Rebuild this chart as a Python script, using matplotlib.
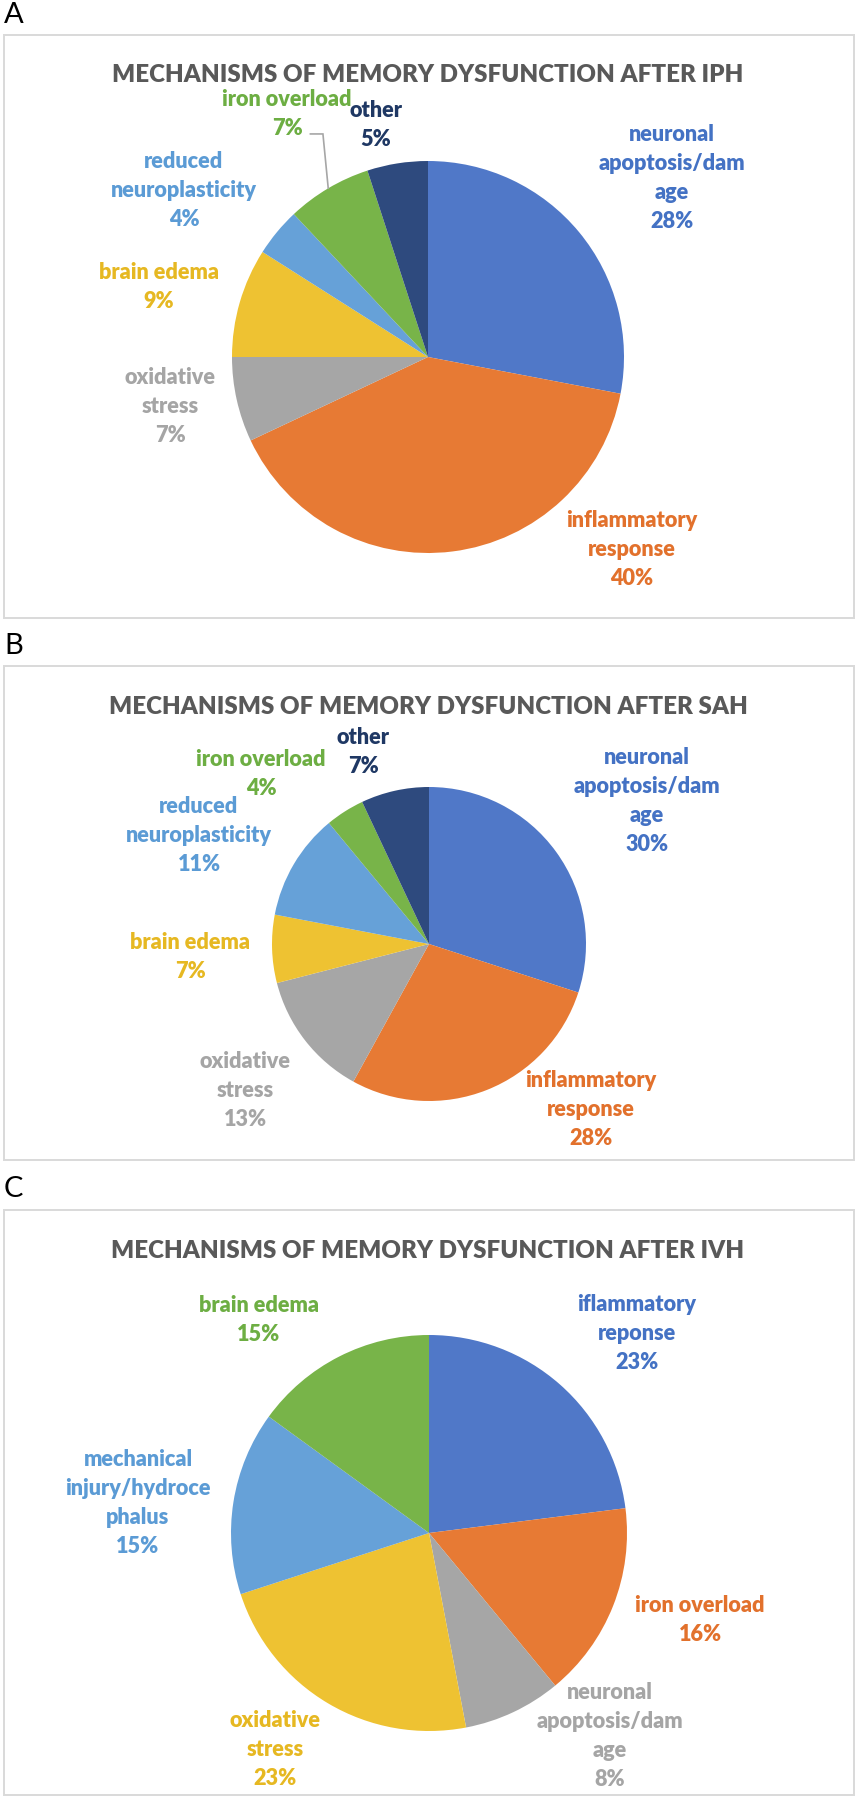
import matplotlib
matplotlib.use("Agg")
import matplotlib.pyplot as plt
import numpy as np
from matplotlib.patches import Rectangle

plt.rcParams["font.family"] = ["Lato", "DejaVu Sans"]

# ---- data ----
iph_labels = ["neuronal\napoptosis/dam\nage", "inflammatory\nresponse", "oxidative\nstress",
              "brain edema", "reduced\nneuroplasticity", "iron overload", "other"]
iph_values = [28, 40, 7, 9, 4, 7, 5]

sah_labels = ["neuronal\napoptosis/dam\nage", "inflammatory\nresponse", "oxidative\nstress",
              "brain edema", "reduced\nneuroplasticity", "iron overload", "other"]
sah_values = [30, 28, 13, 7, 11, 4, 7]

ivh_labels = ["iflammatory\nreponse", "iron overload", "neuronal\napoptosis/dam\nage",
              "oxidative\nstress", "mechanical\ninjury/hydroce\nphalus", "brain edema"]
ivh_values = [23, 16, 8, 23, 15, 15]

titles = ["MECHANISMS OF MEMORY DYSFUNCTION AFTER IPH",
          "MECHANISMS OF MEMORY DYSFUNCTION AFTER SAH",
          "MECHANISMS OF MEMORY DYSFUNCTION AFTER IVH"]
letters = ["A", "B", "C"]

# ---- style ----
fill_colors = ["#5078C8", "#E77A34", "#A6A6A6", "#EEC232", "#66A1D8", "#78B449", "#2E4A7E"]
text_colors = ["#4472C4", "#E2712C", "#A5A5A5", "#E6B822", "#5B9BD5", "#6DAE43", "#1F3864"]
WEIGHT = "heavy"

W, H = 857, 1800
fig = plt.figure(figsize=(W / 100, H / 100), dpi=100)
fig.patch.set_facecolor("white")
renderer = fig.canvas.get_renderer()


def text_width(s, size, **kw):
    t = fig.text(0, 0, s, fontsize=size, **kw)
    bb = t.get_window_extent(renderer=renderer)
    t.remove()
    return bb.width


label_size = 10 * 147 / text_width("neuroplasticity", 10, fontweight=WEIGHT)
title_size = 10 * 630 / text_width(titles[0], 10, fontweight=WEIGHT)

# line step ~29 px between label lines
probe = fig.text(0, 0, "lp", fontsize=label_size, fontweight=WEIGHT)
lp_w, lp_h, lp_d = renderer.get_text_width_height_descent("lp", probe.get_fontproperties(), ismath=False)
probe.remove()
line_sp = (29 - lp_d) / (lp_h - lp_d)

# pixel layout of each panel: pie centre, radius, box, title/letter rows,
# label centres in radius units
panels = [
    dict(center=(428, 357), radius=196, box=(35, 618), title_y=75, letter_y=15,
         label_pos=[(1.245, 0.913), (1.041, -0.980), (-1.316, -0.255), (-1.372, 0.355),
                    (-1.245, 0.852), (-0.719, 1.242), (-0.265, 1.184)],
         leader={5: (-0.600, 1.138)}),
    dict(center=(429, 944), radius=157, box=(666, 1160), title_y=707, letter_y=646,
         label_pos=[(1.389, 0.908), (1.032, -1.057), (-1.172, -0.933), (-1.522, -0.083),
                    (-1.465, 0.694), (-1.070, 1.080), (-0.420, 1.223)],
         leader={}),
    dict(center=(429, 1533), radius=198, box=(1210, 1795), title_y=1251, letter_y=1189,
         label_pos=[(1.051, 1.008), (1.369, -0.439), (0.914, -1.024), (-0.778, -1.094),
                    (-1.470, 0.154), (-0.859, 1.078)],
         leader={}),
]

datasets = [(iph_labels, iph_values), (sah_labels, sah_values), (ivh_labels, ivh_values)]

for (labels, values), geom, title, letter in zip(datasets, panels, titles, letters):
    cx, cy = geom["center"]
    r = geom["radius"]
    top, bottom = geom["box"]

    fig.add_artist(Rectangle((4 / W, 1 - bottom / H), 850 / W, (bottom - top) / H,
                             transform=fig.transFigure, facecolor="white",
                             edgecolor="#D9D9D9", linewidth=1.4, zorder=0))
    fig.text(4 / W, 1 - geom["letter_y"] / H, letter, fontsize=21, color="black",
             ha="left", va="center")
    fig.text(428 / W, 1 - geom["title_y"] / H, title, fontsize=title_size,
             fontweight=WEIGHT, color="#595959", ha="center", va="center")

    k = 2.3
    ax = fig.add_axes([(cx - k * r) / W, 1 - (cy + k * r) / H, 2 * k * r / W, 2 * k * r / H])
    n = len(values)
    ax.pie(values, colors=fill_colors[:n], startangle=90, counterclock=False,
           radius=1, wedgeprops=dict(linewidth=0))
    ax.set_xlim(-k, k)
    ax.set_ylim(-k, k)
    ax.axis("off")

    for i, (lab, v, (lx, ly)) in enumerate(zip(labels, values, geom["label_pos"])):
        ax.text(lx, ly, f"{lab}\n{v}%", fontsize=label_size, fontweight=WEIGHT,
                color=text_colors[i], ha="center", va="center", multialignment="center",
                linespacing=line_sp, clip_on=False)

    # leader line from label to slice edge
    total = float(sum(values))
    cum = np.cumsum([0] + list(values))
    for i, (sx, sy) in geom["leader"].items():
        theta = 2 * np.pi * (cum[i] + values[i] / 2) / total
        ex, ey = np.sin(theta), np.cos(theta)
        ax.plot([sx, ex - 0.027, ex], [sy, sy, ey], color="#A6A6A6", lw=1.2,
                solid_joinstyle="miter", clip_on=False)

fig.savefig("out.png", dpi=100, facecolor="white")
